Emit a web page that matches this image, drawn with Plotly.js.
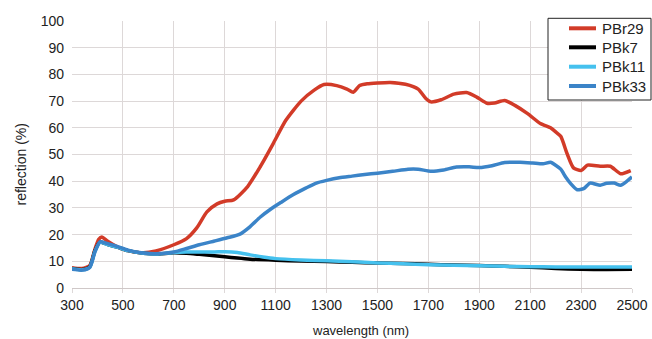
<!DOCTYPE html>
<html>
<head>
<meta charset="utf-8">
<script src="https://cdn.plot.ly/plotly-3.0.1.min.js"></script>
<style>html,body{margin:0;padding:0;background:#fff;}#chart{width:652px;height:339px;}</style>
</head>
<body>
<div id="chart"></div>
<script>
// PBr29 (red)
const xRed = [300,340,370,390,405,417,440,480,520,580,630,700,750,790,830,870,900,935,990,1040,1090,1140,1200,1250,1290,1340,1380,1405,1430,1460,1500,1550,1610,1660,1690,1710,1750,1800,1850,1890,1930,1960,2000,2040,2090,2140,2180,2200,2220,2245,2270,2300,2325,2375,2415,2455,2495];
const yRed = [7.6,7.3,8.5,14.5,18.2,19.1,17.5,15.3,14,13.2,13.9,16.2,18.5,22.5,28.5,31.5,32.5,33,38,45.5,54,62.8,70,74,76.2,75.8,74.5,73.3,75.8,76.5,76.8,77,76.3,74.5,71,69.7,70.5,72.6,73.2,71.5,69.2,69.3,70.2,68.4,65.3,61.6,60,58.5,56.8,50.3,45,44,46,45.6,45.6,42.8,44];
// PBk7 (black)
const xBk7 = [300,340,370,390,410,440,480,520,580,630,700,750,800,860,900,950,1000,1100,1200,1300,1400,1500,1600,1700,1800,1900,2000,2100,2200,2300,2400,2500];
const yBk7 = [7.3,6.9,8,14,17.2,16.3,15.2,14,13,12.7,13.2,13,12.6,12.1,11.7,11.2,10.8,10.4,10.1,9.9,9.6,9.4,9.2,8.9,8.6,8.4,8.1,7.8,7.3,7.0,6.9,7.0];
// PBk11 (light blue)
const xBk11 = [300,340,370,390,410,440,480,520,580,630,700,750,800,860,900,950,1000,1050,1100,1200,1300,1400,1500,1600,1700,1800,1900,2000,2100,2200,2300,2400,2500];
const yBk11 = [7.2,6.8,7.8,13.7,17.1,16.3,15.2,14,13,12.7,13.3,13.5,13.5,13.5,13.6,13.3,12.4,11.6,11,10.5,10.2,9.8,9.4,9.1,8.7,8.5,8.3,8.1,8,7.9,7.9,7.9,7.9];
// PBk33 (blue)
const xBk33 = [300,340,370,390,410,440,480,520,580,630,700,750,800,860,910,960,1000,1040,1080,1120,1170,1220,1260,1300,1350,1400,1450,1500,1560,1620,1660,1710,1760,1810,1860,1900,1950,2000,2060,2110,2150,2180,2200,2220,2240,2260,2285,2310,2335,2375,2400,2430,2455,2480,2500];
const yBk33 = [7,6.7,7.8,13.5,17.3,16.6,15.5,14.2,13.1,12.8,13.5,14.8,16.2,17.6,18.8,20.2,23,26.6,29.5,32,35,37.5,39.3,40.3,41.3,41.9,42.5,43,43.7,44.5,44.5,43.7,44.2,45.3,45.4,45.1,45.8,47,47.1,46.8,46.5,47.1,46,44.5,41.5,39,36.8,37.2,39.3,38.5,39.2,39.3,38.5,40,41.6];

const seriesNames = ['PBr29','PBk7','PBk11','PBk33'];
const xTicks = [300,500,700,900,1100,1300,1500,1700,1900,2100,2300,2500];
const yTicks = [0,10,20,30,40,50,60,70,80,90,100];

const colors = ['#d23b28','#000000','#45c1ee','#3b84c8'];
const xs = [xRed,xBk7,xBk11,xBk33];
const ys = [yRed,yBk7,yBk11,yBk33];

const traces = seriesNames.map((n,i)=>({
  x: xs[i], y: ys[i], name: n, type:'scatter', mode:'lines', showlegend:false,
  line:{color:colors[i], width:3.5, shape:'spline', smoothing:0.6}
}));

// plot geometry (pixels) for placing legend / titles
const W = 652, H = 339, L = 72, R = 20, T = 21, B = 51;
const pw = W - L - R, ph = H - T - B;
const px2x = p => (p - L) / pw;
const py2y = p => (H - B - p) / ph;

const fam = '"Liberation Sans", Arial, sans-serif';
const shapes = [{type:'rect', xref:'paper', yref:'paper', x0:px2x(548), x1:px2x(651), y0:py2y(100), y1:py2y(18.3),
  line:{color:'#222', width:1}, fillcolor:'#fff', layer:'above'}];
const annotations = [];
const rowY = [28.3, 47.3, 66.7, 86];
seriesNames.forEach((n,i)=>{
  shapes.push({type:'line', xref:'paper', yref:'paper', x0:px2x(569), x1:px2x(596), y0:py2y(rowY[i]), y1:py2y(rowY[i]),
    line:{color:colors[i], width:4}, layer:'above'});
  annotations.push({xref:'paper', yref:'paper', x:px2x(601), y:py2y(rowY[i]), xanchor:'left', yanchor:'middle',
    text:n, showarrow:false, font:{family:fam, size:15, color:'#222'}, borderpad:0});
});
annotations.push({xref:'paper', yref:'paper', x:px2x(360), y:py2y(330.5), xanchor:'center', yanchor:'middle',
  text:'wavelength (nm)', showarrow:false, font:{family:fam, size:13, color:'#222'}, borderpad:0});
annotations.push({xref:'paper', yref:'paper', x:px2x(20.5), y:py2y(165), xanchor:'center', yanchor:'middle', textangle:-90,
  text:'reflection (%)', showarrow:false, font:{family:fam, size:14, color:'#222'}, borderpad:0});

const font = {family:fam, size:14, color:'#222'};
const layout = {
  width:W, height:H,
  margin:{l:L, r:R, t:T, b:B},
  paper_bgcolor:'#fff', plot_bgcolor:'#fff',
  font: font,
  showlegend:false,
  shapes: shapes,
  annotations: annotations,
  xaxis:{range:[300,2500], tickvals:xTicks, ticktext:xTicks.map(String), showgrid:true, gridcolor:'#ddd8d8', gridwidth:1,
    zeroline:false, showline:true, linecolor:'#cfc8c8', ticks:'outside', ticklen:4, tickcolor:'#ddd8d8',
    tickfont:font},
  yaxis:{range:[0,100], tickvals:yTicks, ticktext:yTicks.map(String), showgrid:true, gridcolor:'#ddd8d8', gridwidth:1,
    zeroline:false, showline:false, ticks:'', tickfont:font, ticklabelstandoff:7}
};
Plotly.newPlot('chart', traces, layout, {displayModeBar:false, staticPlot:true});
</script>
</body>
</html>
